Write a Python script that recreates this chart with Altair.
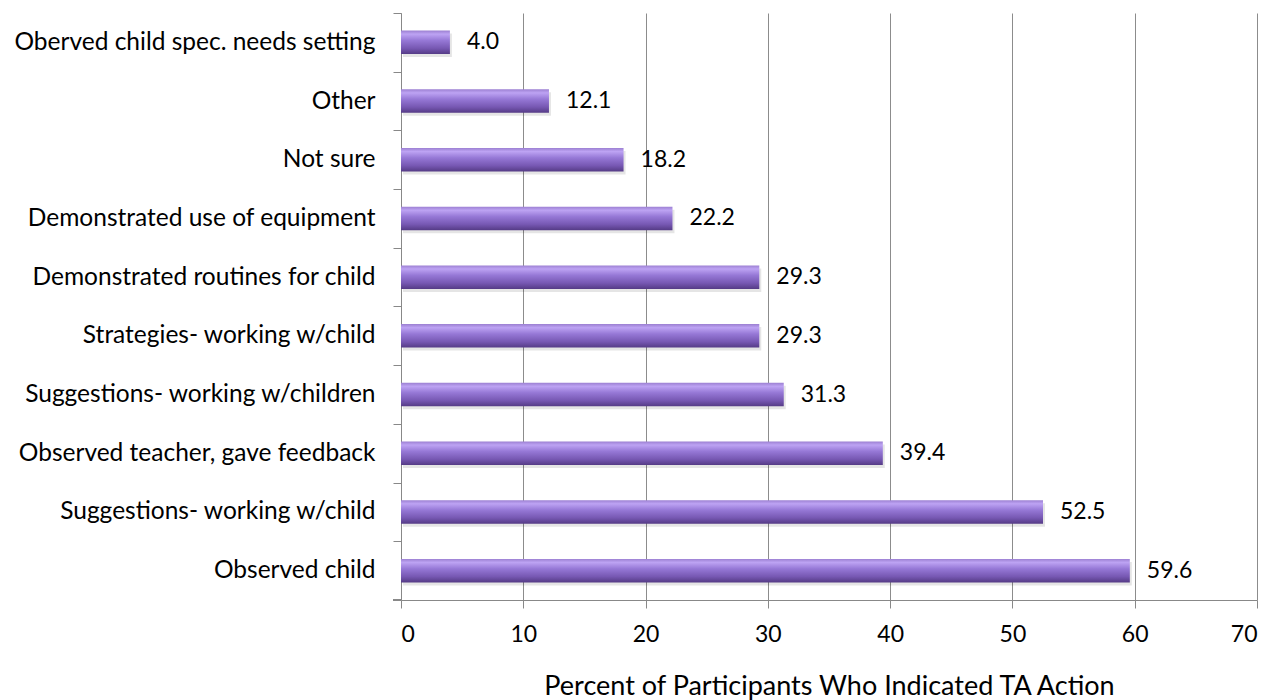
import altair as alt
import pandas as pd

# Survey responses: share of participants reporting each technical-assistance action
actions = [
    "Oberved child spec. needs setting",
    "Other ",
    "Not sure",
    "Demonstrated use of equipment",
    "Demonstrated routines for child",
    "Strategies- working w/child",
    "Suggestions- working w/children",
    "Observed teacher, gave feedback ",
    "Suggestions- working w/child",
    "Observed child",
]
percents = [4.0, 12.1, 18.2, 22.2, 29.3, 29.3, 31.3, 39.4, 52.5, 59.6]
x_ticks = [0, 10, 20, 30, 40, 50, 60, 70]

df = pd.DataFrame({"action": actions, "pct": percents})
df["label"] = df["pct"].map(lambda v: f"{v:.1f}")

FONT = "Lato"
W, H = 856, 587
STEP = H / 10.0  # paddingInner 0.6 + 2 * paddingOuter 0.3 -> exactly 10 steps

bar_fill = alt.Gradient(
    gradient="linear",
    x1=0, y1=0, x2=0, y2=1,
    stops=[
        alt.GradientStop(color="#9c80d2", offset=0.0),
        alt.GradientStop(color="#bda3f3", offset=0.15),
        alt.GradientStop(color="#9678d6", offset=0.42),
        alt.GradientStop(color="#7758b3", offset=0.75),
        alt.GradientStop(color="#553b86", offset=1.0),
    ],
)

y_scale = alt.Scale(paddingInner=0.6, paddingOuter=0.3)

y_enc = alt.Y(
    "action:N",
    sort=actions,
    scale=y_scale,
    axis=alt.Axis(
        title=None,
        labelFont=FONT,
        labelFontSize=24.5,
        labelColor="#000000",
        labelPadding=18,
        labelOffset=STEP / 2,
        ticks=True,
        tickSize=8,
        tickOffset=-STEP / 2,
        tickColor="#888888",
        domainColor="#888888",
        labelLimit=420,
        grid=False,
    ),
)

x_enc = alt.X(
    "pct:Q",
    scale=alt.Scale(domain=[0, 70], nice=False),
    axis=alt.Axis(
        title="Percent of Participants Who Indicated TA Action",
        titleFont=FONT,
        titleFontSize=27,
        titleFontWeight="normal",
        titleColor="#000000",
        titleBaseline="alphabetic",
        titleY=94,
        titleX=W / 2,
        titleAlign="center",
        values=x_ticks,
        labelFont=FONT,
        labelFontSize=23,
        labelColor="#000000",
        labelPadding=15,
        tickSize=8,
        tickColor="#888888",
        domainColor="#888888",
        grid=True,
        gridColor="#8c8c8c",
        gridWidth=1,
    ),
)

# soft drop shadow under each bar
shadow = alt.Chart(df).mark_bar(color="#000000", opacity=0.10, yOffset=3, xOffset=2).encode(
    x=alt.X("pct:Q"),
    y=alt.Y("action:N", sort=actions, scale=y_scale),
)

bars = alt.Chart(df).mark_bar(color=bar_fill).encode(
    x=x_enc,
    y=y_enc,
)

labels = alt.Chart(df).mark_text(
    align="left", baseline="middle", dx=17, font=FONT, fontSize=23, color="#000000"
).encode(
    x=alt.X("pct:Q"),
    y=alt.Y("action:N", sort=actions),
    text="label:N",
)

# closing tick at the foot of the category axis
foot_tick = alt.Chart(df).mark_rule(color="#888888").encode(
    x=alt.value(-8), x2=alt.value(0), y=alt.value(H)
)

chart = (
    alt.layer(shadow, bars, labels, foot_tick)
    .properties(
        width=W,
        height=H,
        padding={"left": 401, "top": 13, "right": 29, "bottom": 100},
        autosize=alt.AutoSizeParams(type="none"),
        background="#ffffff",
    )
    .configure_view(stroke=None)
)

chart.save("out.html", embed_options={"renderer": "svg", "actions": False})
